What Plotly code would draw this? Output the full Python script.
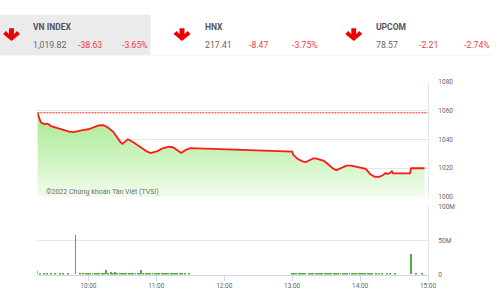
import plotly.graph_objects as go

W, H = 501, 300
DAY = "2022-05-16 "

# ---- data ----
idx_times = ["09:15","09:17","09:18","09:21","09:24","09:27","09:30","09:34","09:38","09:43",
             "09:47","09:51","09:56","10:00","10:04","10:09","10:13","10:17","10:22","10:25",
             "10:28","10:30","10:33","10:35","10:39","10:43","10:48","10:52","10:55","11:01",
             "11:05","11:11","11:15","11:19","11:22","11:26","11:30","13:00","13:01","13:05",
             "13:09","13:12","13:16","13:19","13:23","13:28","13:32","13:36","13:39","13:43",
             "13:48","13:52","13:56","14:02","14:05","14:09","14:13","14:17","14:20","14:22",
             "14:24","14:26","14:28","14:29","14:44","14:45","14:57"]
idx_values = [1058.45,1054.5,1051.8,1050.6,1050.9,1049.2,1048.4,1047.6,1046.4,1045.3,
              1045.0,1045.8,1046.6,1047.0,1048.4,1049.6,1049.9,1048.4,1045.2,1041.6,
              1038.4,1036.8,1038.4,1040.0,1038.3,1036.0,1033.2,1031.4,1030.4,1031.8,
              1033.5,1034.8,1034.3,1032.2,1030.5,1032.6,1033.8,1031.4,1029.2,1026.2,
              1024.6,1024.1,1025.8,1026.9,1026.2,1025.0,1022.4,1019.7,1018.5,1019.7,
              1021.7,1021.6,1020.8,1020.1,1019.4,1015.6,1013.8,1013.9,1014.9,1016.3,
              1016.0,1016.3,1017.8,1016.3,1016.3,1019.82,1019.82]
ref_value = 1058.45

vol_times = ["09:15","09:18","09:21","09:24","09:27","09:31","09:35","09:38","09:42","09:49",
             "09:53","09:56","09:58","10:00","10:02","10:04","10:06","10:08","10:10","10:12",
             "10:14","10:16","10:18","10:20","10:22","10:24","10:26","10:28","10:30","10:32",
             "10:34","10:36","10:38","10:40","10:42","10:44","10:46","10:47","10:49","10:51",
             "10:53","10:55","10:57","10:59","11:01","11:03","11:05","11:07","11:09","11:11",
             "11:13","11:15","11:17","11:19","11:21","11:23","11:26","11:29",
             "13:00","13:02","13:04","13:06","13:08","13:10","13:12","13:15","13:17","13:19",
             "13:21","13:23","13:25","13:27","13:29","13:31","13:33","13:35","13:37","13:39",
             "13:41","13:43","13:45","13:47","13:49","13:51","13:53","13:55","13:57","13:59",
             "14:01","14:03","14:05","14:07","14:09","14:11","14:14","14:17","14:20","14:24",
             "14:27","14:31","14:45","14:50","14:55"]
vol_values = [4.0,0.6,0.5,0.6,0.5,0.6,0.5,0.4,0.5,58.0,
              0.6,0.8,1.0,0.8,1.2,0.9,1.4,1.1,2.0,1.5,
              1.8,6.5,2.2,2.8,2.0,2.5,1.6,2.2,1.8,1.4,
              1.2,1.6,1.0,1.3,1.8,2.0,2.4,6.8,2.2,1.6,
              1.2,1.0,1.4,0.8,1.0,0.7,1.2,0.8,1.0,1.1,
              0.7,0.9,0.6,0.8,0.5,0.7,0.6,0.5,
              1.8,1.2,1.0,0.8,1.2,0.9,0.7,1.0,0.6,1.4,
              2.0,1.5,1.2,1.8,1.4,1.0,1.6,1.2,0.9,0.7,
              1.0,0.8,0.6,0.9,1.1,0.8,1.3,1.6,2.0,1.8,
              1.5,1.2,0.9,1.5,0.8,0.6,0.7,0.5,0.4,0.5,
              0.6,0.8,30.0,0.8,1.5]

x_ticks = ["10:00","11:00","12:00","13:00","14:00","15:00"]
y_ticks = [1000, 1020, 1040, 1060, 1080]
v_ticks = [0, 50, 100]
v_ticktext = ["0", "50M", "100M"]

hdr_names = ["VN INDEX", "HNX", "UPCOM"]
hdr_values = ["1,019.82", "217.41", "78.57"]
hdr_changes = ["-38.63", "-8.47", "-2.21"]
hdr_pcts = ["-3.65%", "-3.75%", "-2.74%"]

# ---- layout helpers (pixel -> paper) ----
def px(x):
    return x / W

def py(y):
    return 1 - y / H

FONT = "Roboto"
GRAY = "#666666"
RED = "#f03c3c"
GRID = "#e6e6e6"
AXIS = "#ccd6eb"

xd = [px(38), px(435)]
x_range = [DAY + "09:15", DAY + "15:00"]

fig = go.Figure()

fig.add_trace(go.Scatter(
    x=[DAY + t for t in idx_times], y=idx_values,
    mode="lines", line=dict(color="#ff1a1a", width=1.8),
    fill="tozeroy",
    fillgradient=dict(type="vertical", start=1000, stop=1060,
                      colorscale=[[0, "rgb(244,253,240)"], [1, "rgb(165,233,140)"]]),
    xaxis="x", yaxis="y", hoverinfo="skip", showlegend=False,
))

fig.add_trace(go.Bar(
    x=[DAY + t for t in vol_times], y=vol_values,
    marker=dict(color="#57ad38", line=dict(width=0)),
    width=50000, xaxis="x2", yaxis="y2", hoverinfo="skip", showlegend=False,
))

fig.update_layout(
    width=W, height=H, margin=dict(l=0, r=0, t=0, b=0),
    paper_bgcolor="white", plot_bgcolor="rgba(0,0,0,0)",
    font=dict(family=FONT, color=GRAY, size=7),
    bargap=0,
    xaxis=dict(domain=xd, range=x_range, type="date", anchor="y",
               showticklabels=False, showgrid=False, zeroline=False, ticks=""),
    yaxis=dict(domain=[py(198), py(80)], range=[1000, 1080], side="right", anchor="x",
               tickvals=y_ticks, gridcolor=GRID, gridwidth=1, zeroline=False,
               showline=True, linecolor="#e3e8ef", linewidth=1,
               ticks="outside", ticklen=8, tickcolor="rgba(0,0,0,0)",
               tickfont=dict(size=6.5, color=GRAY, family=FONT)),
    xaxis2=dict(domain=xd, range=x_range, type="date", anchor="y2",
                tickvals=[DAY + t for t in x_ticks], ticktext=x_ticks,
                showgrid=False, zeroline=False, showline=True, linecolor=AXIS, linewidth=1,
                ticks="outside", ticklen=5, tickcolor=AXIS,
                tickfont=dict(size=6.5, color=GRAY, family=FONT)),
    yaxis2=dict(domain=[py(278), py(208)], range=[0, 100], side="right", anchor="x2",
                tickvals=v_ticks, ticktext=v_ticktext, gridcolor=GRID, zeroline=False,
                showline=True, linecolor="#e3e8ef", linewidth=1,
                ticks="outside", ticklen=8, tickcolor="rgba(0,0,0,0)",
                tickfont=dict(size=6.5, color=GRAY, family=FONT)),
)

shapes = []
# header grey box and separator
shapes.append(dict(type="rect", xref="paper", yref="paper", x0=0, x1=px(153),
                   y0=py(53), y1=py(11), fillcolor="#ebebeb", line=dict(width=0), layer="below"))
shapes.append(dict(type="line", xref="paper", yref="paper", x0=px(153), x1=1,
                   y0=py(53), y1=py(53), line=dict(color="#f2f2f2", width=1)))
# reference dashed line
shapes.append(dict(type="line", xref="paper", yref="y", x0=xd[0], x1=xd[1],
                   y0=ref_value, y1=ref_value, line=dict(color="#ff2020", width=1, dash="2px,1px")))

# down arrows
def arrow(cx, top):
    pts = [(cx - 2.5, top), (cx + 2.5, top), (cx + 2.5, top + 6.2), (cx + 5.6, top + 3.0),
           (cx + 8.6, top + 6.0), (cx, top + 13.3), (cx - 8.6, top + 6.0),
           (cx - 5.6, top + 3.0), (cx - 2.5, top + 6.2)]
    path = "M " + " L ".join(f"{px(x):.5f},{py(y):.5f}" for x, y in pts) + " Z"
    return dict(type="path", xref="paper", yref="paper", path=path,
                fillcolor="#ee0000", line=dict(width=0))

for cx in [11.7, 185, 359.5]:
    shapes.append(arrow(cx, 24.8))

fig.update_layout(shapes=shapes)

ann = []
name_x = [32, 206, 380]
chg_x = [77, 251, 424]
pct_x = [122, 295, 469]
for i in range(3):
    ann.append(dict(text=f"<b>{hdr_names[i]}</b>", x=px(name_x[i]), y=py(24),
                    font=dict(size=8.5, color="#555555", family=FONT)))
    ann.append(dict(text=hdr_values[i], x=px(name_x[i]), y=py(42.2),
                    font=dict(size=8.7, color=GRAY, family=FONT)))
    ann.append(dict(text=hdr_changes[i], x=px(chg_x[i]), y=py(42.2),
                    font=dict(size=8.7, color=RED, family=FONT)))
    ann.append(dict(text=hdr_pcts[i], x=px(pct_x[i]), y=py(42.2),
                    font=dict(size=8.7, color=RED, family=FONT)))
ann.append(dict(text="©2022 Chứng khoán Tân Việt (TVSI)", x=px(45), y=py(193),
                font=dict(size=7, color="#707070", family=FONT)))
for a in ann:
    a.update(xref="paper", yref="paper", xanchor="left", yanchor="middle", showarrow=False)
fig.update_layout(annotations=ann)

fig.write_html("out.html")
